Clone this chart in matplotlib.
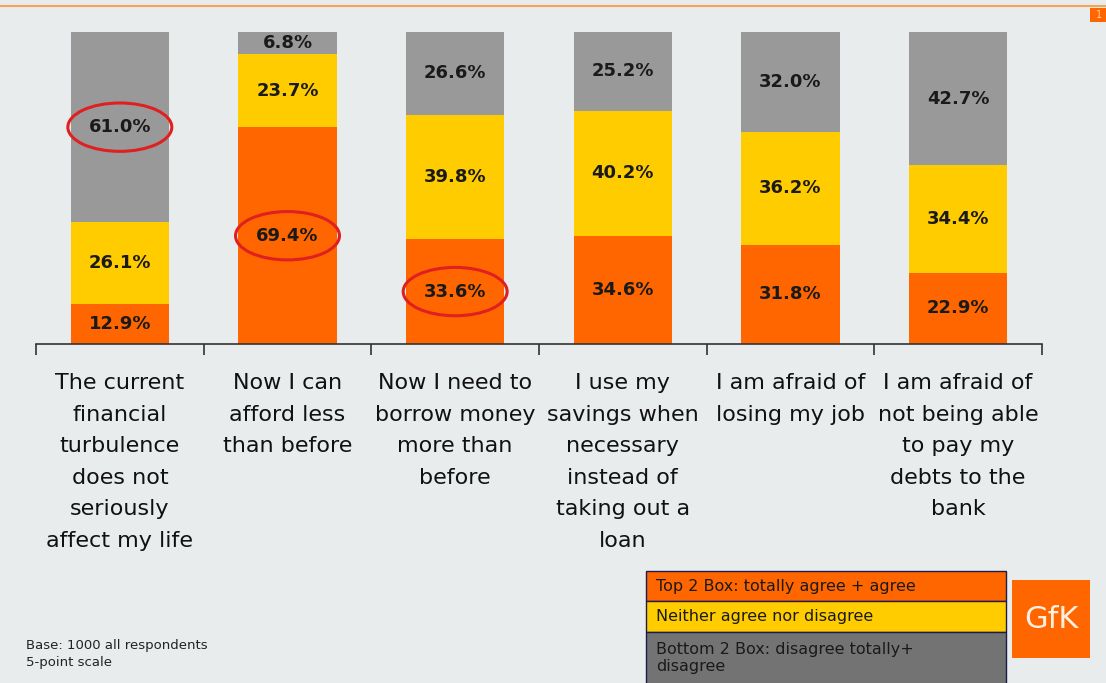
import matplotlib
matplotlib.use("Agg")
import matplotlib.pyplot as plt
from matplotlib.patches import Ellipse, Rectangle
import numpy as np

categories = [
    "The current\nfinancial\nturbulence\ndoes not\nseriously\naffect my life",
    "Now I can\nafford less\nthan before",
    "Now I need to\nborrow money\nmore than\nbefore",
    "I use my\nsavings when\nnecessary\ninstead of\ntaking out a\nloan",
    "I am afraid of\nlosing my job",
    "I am afraid of\nnot being able\nto pay my\ndebts to the\nbank",
]
top2 = [12.9, 69.4, 33.6, 34.6, 31.8, 22.9]
neither = [26.1, 23.7, 39.8, 40.2, 36.2, 34.4]
bottom2 = [61.0, 6.8, 26.6, 25.2, 32.0, 42.7]
circled = [(0, "bottom2"), (1, "top2"), (2, "top2")]
legend_labels = ["Top 2 Box: totally agree + agree",
                 "Neither agree nor disagree",
                 "Bottom 2 Box: disagree totally+\ndisagree"]

BG = "#e9ecec"
ORANGE = "#ff6600"
YELLOW = "#ffcc00"
GRAY = "#999999"

fig = plt.figure(figsize=(11.06, 6.83), dpi=100, facecolor=BG)
W, H = 1106, 683
ax = fig.add_axes([36 / W, (H - 344) / H, 1006 / W, 312 / H])
ax.set_facecolor(BG)

x = np.arange(len(categories))
bw = 0.585
series = [("top2", top2, ORANGE), ("neither", neither, YELLOW), ("bottom2", bottom2, GRAY)]
bottoms = np.zeros(len(categories))
centers = {}
for name, vals, col in series:
    vals = np.array(vals)
    ax.bar(x, vals, bw, bottom=bottoms, color=col, edgecolor="none")
    for i, v in enumerate(vals):
        cy = bottoms[i] + v / 2
        centers[(i, name)] = cy
        ax.text(x[i], cy, f"{v:.1f}%", ha="center", va="center",
                fontsize=13, fontweight="bold", color="#1a1a1a")
    bottoms = bottoms + vals

for i, name in circled:
    ax.add_patch(Ellipse((x[i], centers[(i, name)]), 0.62, 15.5,
                         fill=False, edgecolor="#e02020", linewidth=2.2, clip_on=False))

ax.set_xlim(-0.5, len(categories) - 0.5)
ax.set_ylim(0, 100)
for s in ["top", "right", "left"]:
    ax.spines[s].set_visible(False)
ax.spines["bottom"].set_color("#333333")
ax.spines["bottom"].set_linewidth(1.2)
ax.set_yticks([])
ax.set_xticks(np.arange(-0.5, len(categories), 1.0))
ax.set_xticklabels([])
ax.tick_params(axis="x", direction="out", length=8, width=1.2, color="#333333")

for i, c in enumerate(categories):
    ax.text(x[i], -9.3, c, ha="center", va="top", fontsize=16, color="#111111",
            linespacing=1.72, transform=ax.transData)

# top decorative line and page marker
fig.add_artist(plt.Line2D([0, 1], [1 - 6 / H, 1 - 6 / H], color="#f2a552", lw=1.5))
fig.add_artist(Rectangle((1090 / W, 1 - 22 / H), 16 / W, 14 / H, color=ORANGE, lw=0))
fig.text(1096 / W, 1 - 15 / H, "1", fontsize=7, color="#ffd0a0", va="center", ha="left")

# legend boxes
lx0, lx1 = 646 / W, 1006 / W
rows = [(571, 601, ORANGE), (601, 632, YELLOW), (632, 690, "#737373")]
for (t, b, col), lab in zip(rows, legend_labels):
    fig.add_artist(Rectangle((lx0, 1 - b / H), lx1 - lx0, (b - t) / H,
                             facecolor=col, edgecolor="#1c1c4a", lw=1.0))
    fig.text(656 / W, 1 - (t + 16) / H if "\n" not in lab else 1 - (t + 26) / H,
             lab, fontsize=11.5, color="#1a1a1a", va="center", ha="left", linespacing=1.1)

# GfK logo
fig.add_artist(Rectangle((1012 / W, 1 - 658 / H), 78 / W, 78 / H, color=ORANGE, lw=0))
fig.text(1051 / W, 1 - 619 / H, "GfK", fontsize=22, color="#fff0e0",
         ha="center", va="center")

fig.text(26 / W, 1 - 654 / H, "Base: 1000 all respondents\n5-point scale",
         fontsize=9.5, color="#222222", va="center", ha="left", linespacing=1.4)

fig.savefig("out.png", dpi=100, facecolor=BG)
